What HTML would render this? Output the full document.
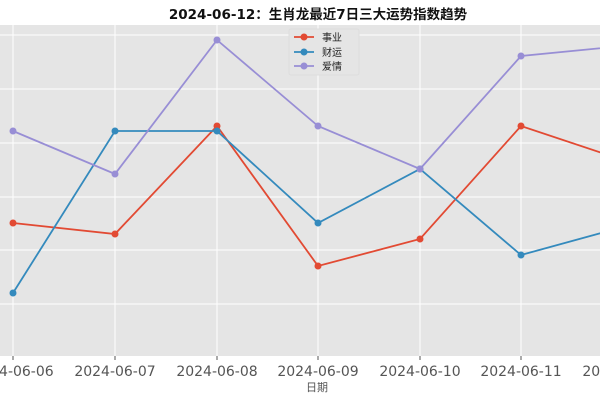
<!DOCTYPE html>
<html><head><meta charset="utf-8"><style>body{margin:0;background:#fff}</style></head><body>
<svg width="600" height="400" xmlns="http://www.w3.org/2000/svg" font-family="Liberation Sans, Noto Sans CJK SC, sans-serif">
<rect x="0" y="25" width="600" height="331" fill="#e5e5e5"/>
<g stroke="#fff" stroke-width="1">
<line x1="0" x2="600" y1="35" y2="35"/><line x1="0" x2="600" y1="89" y2="89"/><line x1="0" x2="600" y1="143" y2="143"/><line x1="0" x2="600" y1="197" y2="197"/><line x1="0" x2="600" y1="250" y2="250"/><line x1="0" x2="600" y1="304" y2="304"/>
<line y1="25" y2="356" x1="13" x2="13"/><line y1="25" y2="356" x1="115" x2="115"/><line y1="25" y2="356" x1="217" x2="217"/><line y1="25" y2="356" x1="318" x2="318"/><line y1="25" y2="356" x1="420" x2="420"/><line y1="25" y2="356" x1="521" x2="521"/>
</g>
<g stroke="#555" stroke-width="1"><line x1="13" x2="13" y1="356" y2="360"/><line x1="115" x2="115" y1="356" y2="360"/><line x1="217" x2="217" y1="356" y2="360"/><line x1="318" x2="318" y1="356" y2="360"/><line x1="420" x2="420" y1="356" y2="360"/><line x1="521" x2="521" y1="356" y2="360"/></g>
<g fill="none" stroke-width="1.8">
<polyline stroke="#e24a33" points="13,223 115,234 217,126 318,266 420,239 521,126 623,160"/>
<polyline stroke="#348abd" points="13,293 115,131 217,131 318,223 420,169 521,255 623,227"/>
<polyline stroke="#988ed5" points="13,131 115,174 217,40 318,126 420,169 521,56 623,46"/>
</g>
<g fill="#e24a33"><circle cx="13" cy="223" r="3.5"/><circle cx="115" cy="234" r="3.5"/><circle cx="217" cy="126" r="3.5"/><circle cx="318" cy="266" r="3.5"/><circle cx="420" cy="239" r="3.5"/><circle cx="521" cy="126" r="3.5"/></g>
<g fill="#348abd"><circle cx="13" cy="293" r="3.5"/><circle cx="115" cy="131" r="3.5"/><circle cx="217" cy="131" r="3.5"/><circle cx="318" cy="223" r="3.5"/><circle cx="420" cy="169" r="3.5"/><circle cx="521" cy="255" r="3.5"/></g>
<g fill="#988ed5"><circle cx="13" cy="131" r="3.5"/><circle cx="115" cy="174" r="3.5"/><circle cx="217" cy="40" r="3.5"/><circle cx="318" cy="126" r="3.5"/><circle cx="420" cy="169" r="3.5"/><circle cx="521" cy="56" r="3.5"/></g>
<rect x="289" y="29" width="70" height="46" fill="#e5e5e5" stroke="#ddd" rx="2"/>
<g stroke-width="1.8"><line x1="294" x2="314" y1="37" y2="37" stroke="#e24a33"/><line x1="294" x2="314" y1="52" y2="52" stroke="#348abd"/><line x1="294" x2="314" y1="66" y2="66" stroke="#988ed5"/></g>
<circle cx="304" cy="37" r="3.5" fill="#e24a33"/><circle cx="304" cy="52" r="3.5" fill="#348abd"/><circle cx="304" cy="66" r="3.5" fill="#988ed5"/>
<g font-size="10" fill="#222"><text x="322" y="41">事业</text><text x="322" y="56">财运</text><text x="322" y="70">爱情</text></g>
<text x="318" y="19" font-size="13.5" font-weight="bold" text-anchor="middle" fill="#111" font-family="DejaVu Sans, Noto Sans CJK SC, sans-serif">2024-06-12：生肖龙最近7日三大运势指数趋势</text>
<g font-size="14" fill="#555" text-anchor="middle" font-family="DejaVu Sans, sans-serif"><text x="13" y="376">2024-06-06</text><text x="115" y="376">2024-06-07</text><text x="217" y="376">2024-06-08</text><text x="318" y="376">2024-06-09</text><text x="420" y="376">2024-06-10</text><text x="521" y="376">2024-06-11</text><text x="623" y="376">2024-06-12</text></g>
<text x="317" y="391" font-size="11" fill="#555" text-anchor="middle">日期</text>
</svg>
</body></html>
